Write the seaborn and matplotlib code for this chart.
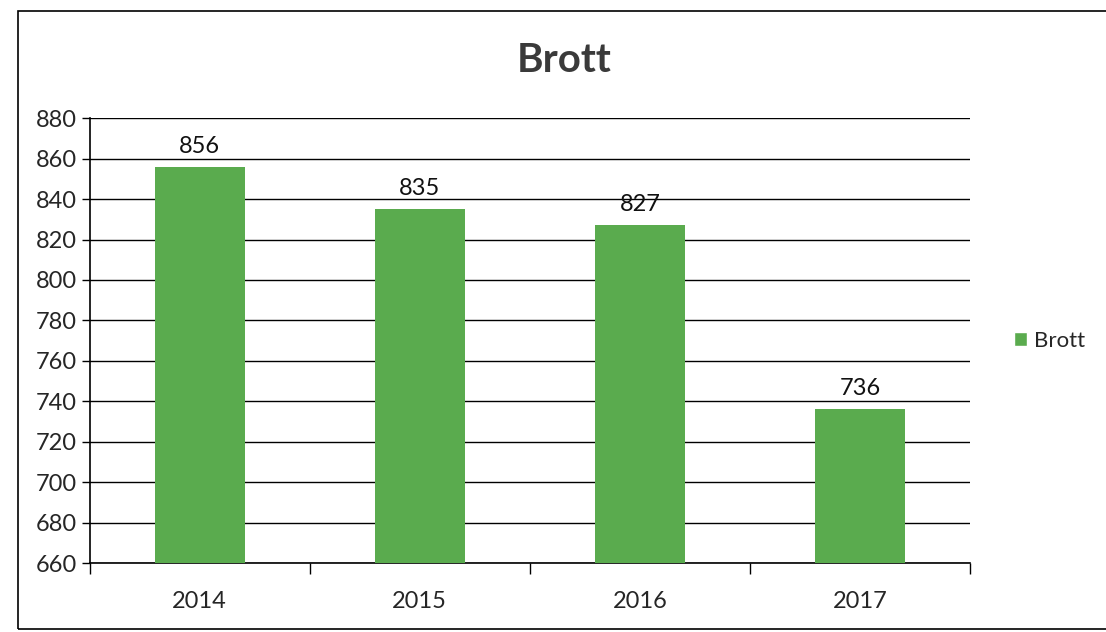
import numpy as np
import pandas as pd
import matplotlib.pyplot as plt
import seaborn as sns
from matplotlib.patches import Rectangle, Patch
from matplotlib.ticker import FixedLocator

years = ["2014", "2015", "2016", "2017"]
brott = [856, 835, 827, 736]

df = pd.DataFrame({"year": years, "Brott": brott})

sns.set_style("white")
plt.rcParams["font.family"] = ["Lato", "DejaVu Sans"]

fig = plt.figure(figsize=(11.06, 6.32), dpi=100)
ax = fig.add_axes([0.081, 0.109, 0.796, 0.704])

green = "#5aab4e"
sns.barplot(data=df, x="year", y="Brott", color=green, width=0.41,
            saturation=1, linewidth=0, ax=ax, zorder=3)

ax.set_ylim(660, 880)
ax.set_xlim(-0.5, 3.5)
ax.set_yticks(np.arange(660, 881, 20))
ax.yaxis.grid(True, color="black", linewidth=1.0, zorder=0)
ax.set_axisbelow(True)
ax.set_xlabel("")
ax.set_ylabel("")

for s in ["top", "right"]:
    ax.spines[s].set_visible(False)
for s in ["left", "bottom"]:
    ax.spines[s].set_color("black")
    ax.spines[s].set_linewidth(1.2)

ax.tick_params(axis="y", which="major", length=6, width=1, color="black",
               labelsize=17, pad=3, left=True)
ax.tick_params(axis="x", which="major", length=0, labelsize=17, pad=20)
ax.xaxis.set_minor_locator(FixedLocator([-0.5, 0.5, 1.5, 2.5, 3.5]))
ax.tick_params(axis="x", which="minor", length=8, width=1, color="black",
               bottom=True)

for i, v in enumerate(brott):
    ax.text(i, v + 5, str(v), ha="center", va="bottom", fontsize=17,
            color="#111111", zorder=4)

fig.text(0.51, 0.905, "Brott", ha="center", va="center", fontsize=29,
         fontweight="bold", color="#3a3a3a")

ax.legend(handles=[Patch(facecolor=green, label="Brott")], loc="center left",
          bbox_to_anchor=(1.05, 0.5), frameon=False, fontsize=16,
          handlelength=0.6, handleheight=0.6, handletextpad=0.3,
          borderaxespad=0, borderpad=0)

fig.patches.append(Rectangle((0.016, 0.005), 0.985, 0.978, transform=fig.transFigure,
                             fill=False, edgecolor="black", linewidth=1.2))

fig.savefig("out.png", dpi=100)
